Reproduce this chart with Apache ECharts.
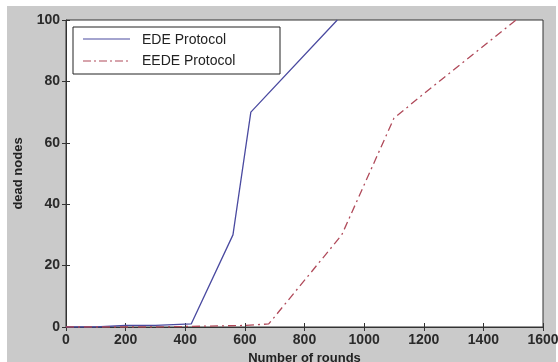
<!DOCTYPE html>
<html>
<head>
<meta charset="utf-8">
<script src="https://cdn.jsdelivr.net/npm/echarts@6/dist/echarts.min.js"></script>
<style>
  html, body { margin: 0; padding: 0; background: #fff; }
  #chart { width: 558px; height: 362px; }
</style>
</head>
<body>
<div id="chart"></div>
<script>
// rounds vs dead nodes
var edeRounds  = [0, 100, 200, 300, 420, 560, 620, 910];
var edeDead    = [0, 0, 0.5, 0.5, 1, 30, 70, 100];
var eedeRounds = [0, 300, 600, 680, 925, 1100, 1200, 1510];
var eedeDead   = [0, 0, 0.5, 1, 30, 68, 76, 100];
var seriesNames = ['EDE Protocol', 'EEDE Protocol'];

function pairs(xs, ys) {
  return xs.map(function (x, i) { return [x, ys[i]]; });
}

var font = 'Liberation Sans, Arial, sans-serif';
var tickLabel = { color: '#2a2a2a', fontSize: 14, fontWeight: 'bold', fontFamily: font,
  formatter: function (v) { return String(v); } };
var nameStyle = { color: '#222', fontSize: 13, fontWeight: 'bold', fontFamily: font };

var chart = echarts.init(document.getElementById('chart'));
chart.setOption({
  animation: false,
  backgroundColor: '#fff',
  graphic: [
    { type: 'rect', z: -10, shape: { x: 7, y: 6, width: 549, height: 356 }, style: { fill: '#cacaca' } },
    // legend box
    { type: 'rect', z: 10, shape: { x: 73, y: 27, width: 207, height: 47 },
      style: { fill: '#fff', stroke: '#222', lineWidth: 1 } },
    { type: 'line', z: 11, shape: { x1: 83, y1: 39, x2: 130, y2: 39 },
      style: { stroke: '#4a4aa0', lineWidth: 1.2 } },
    { type: 'line', z: 11, shape: { x1: 83, y1: 61, x2: 130, y2: 61 },
      style: { stroke: '#b04a5a', lineWidth: 1.2, lineDash: [8, 3, 2, 3] } },
    { type: 'text', z: 11, style: { x: 142, y: 40, text: seriesNames[0], fill: '#222',
      font: '14px ' + font, verticalAlign: 'middle' } },
    { type: 'text', z: 11, style: { x: 142, y: 61, text: seriesNames[1], fill: '#222',
      font: '14px ' + font, verticalAlign: 'middle' } }
  ],
  grid: {
    left: 66, right: 15, top: 20, bottom: 35,
    outerBoundsMode: 'none', containLabel: false,
    show: true, backgroundColor: '#fff', borderColor: '#333', borderWidth: 1
  },
  xAxis: [{
    type: 'value', min: 0, max: 1600, interval: 200,
    name: 'Number of rounds', nameLocation: 'middle', nameGap: 24,
    nameTextStyle: nameStyle,
    axisLine: { lineStyle: { color: '#333' } },
    axisTick: { inside: true, length: 4, lineStyle: { color: '#333' } },
    axisLabel: Object.assign({ margin: 6 }, tickLabel),
    splitLine: { show: false }
  }, {
    type: 'value', position: 'top', min: 0, max: 1600, interval: 200,
    axisLine: { show: false },
    axisTick: { inside: true, length: 4, lineStyle: { color: '#333' } },
    axisLabel: { show: false }, splitLine: { show: false }
  }],
  yAxis: [{
    type: 'value', min: 0, max: 100, interval: 20,
    name: 'dead nodes', nameLocation: 'middle', nameGap: 41,
    nameTextStyle: nameStyle,
    axisLine: { show: true, lineStyle: { color: '#333' } },
    axisTick: { show: true, inside: true, length: 4, lineStyle: { color: '#333' } },
    axisLabel: Object.assign({ margin: 6 }, tickLabel),
    splitLine: { show: false }
  }, {
    type: 'value', position: 'right', min: 0, max: 100, interval: 20,
    axisLine: { show: false },
    axisTick: { show: true, inside: true, length: 4, lineStyle: { color: '#333' } },
    axisLabel: { show: false }, splitLine: { show: false }
  }],
  series: [{
    name: seriesNames[0], type: 'line', showSymbol: false,
    data: pairs(edeRounds, edeDead),
    lineStyle: { color: '#4a4aa0', width: 1.3 }
  }, {
    name: seriesNames[1], type: 'line', showSymbol: false,
    data: pairs(eedeRounds, eedeDead),
    lineStyle: { color: '#b04a5a', width: 1.3, type: [8, 4, 2, 4] }
  }]
});
</script>
</body>
</html>
